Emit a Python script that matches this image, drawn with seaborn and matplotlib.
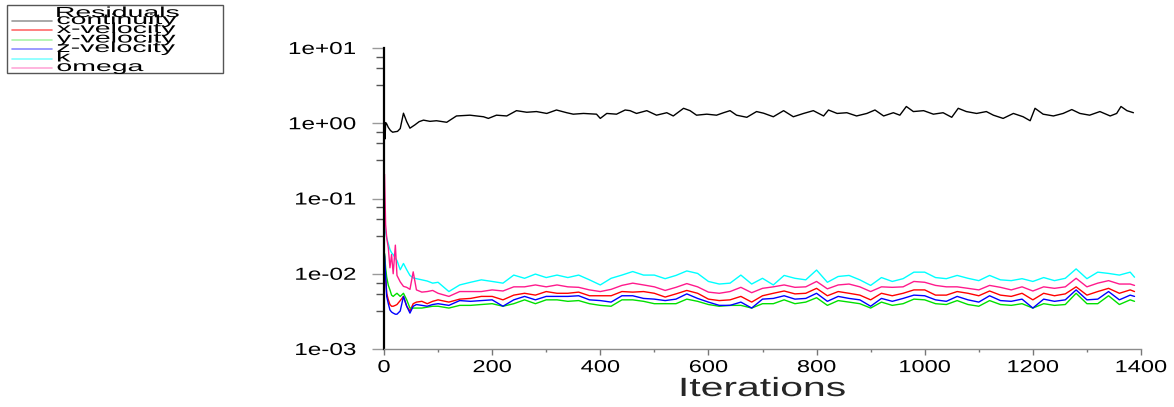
import matplotlib
matplotlib.use("Agg")
import matplotlib.pyplot as plt
import pandas as pd
import seaborn as sns
from matplotlib.lines import Line2D
from matplotlib.patches import Rectangle
from matplotlib.patheffects import AbstractPathEffect
from matplotlib.transforms import Affine2D
from matplotlib.ticker import FixedLocator, FixedFormatter, NullFormatter

# ---- residual history -------------------------------------------------------
series_names = ["continuity", "x-velocity", "y-velocity", "z-velocity", "k", "omega"]
line_colors = ["#000000", "#ff0000", "#00e000", "#0000ff", "#00ffff", "#ff1a8c"]
legend_colors = ["#9a9a9a", "#ff6a6a", "#a8f5a8", "#8a8aff", "#80ffff", "#ffa8d8"]

continuity_iter = [0, 1, 2, 3, 5, 8, 12, 16, 20, 25, 30, 36, 42, 48, 57, 65, 73, 85,
                   97, 116, 134, 159, 184, 193, 208, 227, 245, 264, 282, 301, 319,
                   338, 350, 369, 393, 400, 412, 430, 446, 455, 467, 486, 504, 523,
                   535, 554, 566, 578, 597, 615, 628, 640, 652, 671, 689, 702, 720,
                   739, 757, 776, 794, 813, 822, 838, 856, 874, 893, 908, 924, 942,
                   954, 966, 979, 998, 1016, 1034, 1050, 1062, 1077, 1096, 1114,
                   1127, 1145, 1164, 1182, 1195, 1204, 1219, 1238, 1256, 1272, 1287,
                   1305, 1324, 1343, 1355, 1363, 1374, 1386]
continuity = [0.50, 1.00, 0.62, 1.02, 0.98, 0.88, 0.80, 0.76, 0.77, 0.78, 0.85, 1.36,
              1.05, 0.86, 0.95, 1.05, 1.10, 1.06, 1.08, 1.03, 1.25, 1.28, 1.22, 1.16,
              1.28, 1.25, 1.47, 1.40, 1.43, 1.35, 1.50, 1.38, 1.32, 1.35, 1.32, 1.16,
              1.35, 1.32, 1.50, 1.47, 1.35, 1.47, 1.28, 1.38, 1.25, 1.58, 1.47, 1.28,
              1.32, 1.28, 1.38, 1.47, 1.28, 1.20, 1.43, 1.36, 1.22, 1.47, 1.22, 1.35,
              1.47, 1.25, 1.50, 1.35, 1.38, 1.25, 1.35, 1.50, 1.25, 1.38, 1.28, 1.67,
              1.43, 1.47, 1.32, 1.38, 1.20, 1.58, 1.43, 1.35, 1.43, 1.28, 1.16, 1.35,
              1.22, 1.08, 1.58, 1.32, 1.25, 1.35, 1.52, 1.35, 1.28, 1.43, 1.25, 1.35,
              1.67, 1.47, 1.38]

iterations = [1, 3, 5, 8, 11, 14, 17, 21, 24, 30, 36, 42, 48, 54, 60, 70, 80, 90,
              100, 120, 140, 160, 180, 200, 220, 240, 260, 280, 300, 320, 340,
              360, 380, 400, 420, 440, 460, 480, 500, 520, 540, 560, 580, 600, 620,
              640, 660, 680, 700,
              720, 740, 760, 780, 800, 820, 840, 860, 880, 900, 920, 940, 960, 980,
              1000, 1020, 1040,
              1060, 1080, 1100, 1120, 1140, 1160, 1180, 1200, 1220, 1240, 1260, 1280,
              1300, 1320, 1340, 1360, 1380, 1388]

x_velocity = [0.017, 0.0093, 0.0055, 0.0045, 0.0039, 0.0037, 0.0037, 0.0038, 0.0039,
              0.0044, 0.0050, 0.0037, 0.0032, 0.0040, 0.0042, 0.0043, 0.0040, 0.0043,
              0.0045, 0.0042, 0.0046, 0.0047, 0.0050, 0.0050, 0.0045, 0.0052, 0.0055,
              0.0052, 0.0058, 0.0055, 0.0055,
              0.0057, 0.0051, 0.0051, 0.0051, 0.0058, 0.0057, 0.0058, 0.0055, 0.0049,
              0.0054, 0.0060, 0.0055, 0.0046, 0.0044, 0.0045, 0.0050, 0.0042, 0.0051,
              0.0055, 0.0059, 0.0054, 0.0055, 0.0064, 0.0051, 0.0058, 0.0055, 0.0052,
              0.0045, 0.0055, 0.0051, 0.0055, 0.0061, 0.0061, 0.0052, 0.0052,
              0.0058, 0.0055, 0.0051, 0.0059, 0.0052, 0.0050, 0.0055, 0.0045, 0.0055,
              0.0051, 0.0054, 0.0067, 0.0052, 0.0058, 0.0064, 0.0055, 0.0061, 0.0058]

y_velocity = [0.0187, 0.012, 0.0090, 0.0070, 0.0061, 0.0052, 0.0050, 0.0053, 0.0055,
              0.0050, 0.0055, 0.0045, 0.0035, 0.0035, 0.0035, 0.0035, 0.0036, 0.0037,
              0.0037, 0.0035, 0.0038, 0.0038, 0.0039, 0.0040, 0.0037, 0.0040, 0.0045,
              0.0040, 0.0045, 0.0045, 0.0043,
              0.0044, 0.0040, 0.0038, 0.0037, 0.0045, 0.0045, 0.0043, 0.0040, 0.0040,
              0.0040, 0.0046, 0.0043, 0.0039, 0.0037, 0.0038, 0.0038, 0.0035, 0.0040,
              0.0040, 0.0045, 0.0040, 0.0042, 0.0048, 0.0038, 0.0044, 0.0042, 0.0040,
              0.0035, 0.0042, 0.0038, 0.0040, 0.0046, 0.0045, 0.0040, 0.0039,
              0.0044, 0.0039, 0.0037, 0.0044, 0.0039, 0.0038, 0.0040, 0.0035, 0.0040,
              0.0038, 0.0039, 0.0055, 0.0040, 0.0040, 0.0051, 0.0039, 0.0045, 0.0043]

z_velocity = [0.018, 0.0093, 0.0050, 0.0040, 0.0033, 0.0031, 0.0030, 0.0029, 0.0029,
              0.0032, 0.0050, 0.0037, 0.0030, 0.0037, 0.0039, 0.0038, 0.0037, 0.0039,
              0.0040, 0.0038, 0.0044, 0.0043, 0.0044, 0.0045, 0.0037, 0.0045, 0.0050,
              0.0045, 0.0050, 0.0050, 0.0050,
              0.0051, 0.0045, 0.0044, 0.0042, 0.0051, 0.0051, 0.0047, 0.0046, 0.0044,
              0.0046, 0.0054, 0.0047, 0.0042, 0.0038, 0.0038, 0.0042, 0.0035, 0.0046,
              0.0047, 0.0051, 0.0046, 0.0047, 0.0055, 0.0043, 0.0050, 0.0047, 0.0045,
              0.0037, 0.0047, 0.0043, 0.0047, 0.0052, 0.0051, 0.0045, 0.0043,
              0.0050, 0.0045, 0.0042, 0.0051, 0.0044, 0.0043, 0.0046, 0.0035, 0.0046,
              0.0043, 0.0045, 0.0061, 0.0045, 0.0046, 0.0058, 0.0045, 0.0052, 0.0050]

k = [0.044, 0.036, 0.030, 0.025, 0.021, 0.019, 0.018, 0.016, 0.015, 0.0113, 0.0137,
     0.0113, 0.0095, 0.0088, 0.0086, 0.0083, 0.0080, 0.0075,
     0.0077, 0.0058, 0.0071, 0.0077, 0.0083, 0.0079, 0.0075, 0.0096, 0.0087, 0.0099,
     0.0089, 0.0096, 0.0089,
     0.0096, 0.0083, 0.0071, 0.0087, 0.0096, 0.0107, 0.0096, 0.0096, 0.0086, 0.0095,
     0.0109, 0.0101, 0.0079, 0.0073, 0.0075, 0.0096, 0.0073, 0.0087,
     0.0071, 0.0095, 0.0087, 0.0083, 0.0112, 0.0077, 0.0092, 0.0095, 0.0083, 0.0070,
     0.0089, 0.0079, 0.0086, 0.0105, 0.0105, 0.0089, 0.0086,
     0.0095, 0.0087, 0.0081, 0.0095, 0.0083, 0.0081, 0.0086, 0.0079, 0.0089, 0.0081,
     0.0087, 0.0116, 0.0086, 0.0105, 0.0101, 0.0096, 0.0105, 0.0090]

omega = [0.21, 0.045, 0.030, 0.022, 0.012, 0.018, 0.010, 0.024, 0.0095, 0.0078,
         0.0068, 0.0066, 0.0062, 0.0106, 0.0061, 0.0057, 0.0058, 0.0060,
         0.0055, 0.0050, 0.0058, 0.0058, 0.0058, 0.0061, 0.0059, 0.0067, 0.0067,
         0.0071, 0.0067, 0.0071, 0.0067,
         0.0066, 0.0061, 0.0058, 0.0062, 0.0070, 0.0075, 0.0071, 0.0067, 0.0060,
         0.0066, 0.0074, 0.0067, 0.0057, 0.0055, 0.0058, 0.0066, 0.0056, 0.0064,
         0.0067, 0.0071, 0.0066, 0.0067, 0.0079, 0.0063, 0.0071, 0.0073, 0.0067,
         0.0058, 0.0067, 0.0066, 0.0067, 0.0079, 0.0077, 0.0070, 0.0067,
         0.0067, 0.0064, 0.0061, 0.0070, 0.0066, 0.0061, 0.0067, 0.0059, 0.0067,
         0.0064, 0.0067, 0.0087, 0.0067, 0.0075, 0.0081, 0.0073, 0.0073, 0.0070]

x_ticks = [0, 200, 400, 600, 800, 1000, 1200, 1400]
x_minor_ticks = [100, 300, 500, 700, 900, 1100, 1300]
y_ticks = [1e-3, 1e-2, 1e-1, 1e0, 1e1]
y_tick_labels = ["1e-03", "1e-02", "1e-01", "1e+00", "1e+01"]
y_minor_subs = [3.2, 5.4, 7.6]


class Widen(AbstractPathEffect):
    """Draw text glyphs stretched horizontally about an anchor (0=left, 1=right)."""

    def __init__(self, sx, anchor=0.0):
        super().__init__()
        self.sx = sx
        self.anchor = anchor

    def draw_path(self, renderer, gc, tpath, affine, rgbFace=None):
        ext = tpath.get_extents()
        x0 = ext.x0 + self.anchor * ext.width
        stretch = Affine2D().translate(-x0, 0).scale(self.sx, 1.0).translate(x0, 0)
        renderer.draw_path(gc, tpath, stretch + affine, rgbFace)


# ---- long-form table for seaborn --------------------------------------------
frames = [pd.DataFrame({"Iterations": continuity_iter, "Residual": continuity,
                        "Series": "continuity"})]
for name, vals in zip(series_names[1:], [x_velocity, y_velocity, z_velocity, k, omega]):
    frames.append(pd.DataFrame({"Iterations": iterations, "Residual": vals,
                                "Series": name}))
df = pd.concat(frames, ignore_index=True)

sns.set_theme(style="white")
plt.rcParams["font.family"] = ["Liberation Sans", "DejaVu Sans"]

W, H = 1174, 407
fig = plt.figure(figsize=(W / 100, H / 100), dpi=100)
ax = fig.add_axes([384 / W, 1 - 349 / H, (1141 - 384) / W, (349 - 48) / H])

sns.lineplot(data=df, x="Iterations", y="Residual", hue="Series",
             hue_order=series_names, palette=dict(zip(series_names, line_colors)),
             estimator=None, sort=False, legend=False, linewidth=1.0, ax=ax)

ax.set_yscale("log")
ax.set_xlim(0, 1400)
ax.set_ylim(1e-3, 1e1)

for side in ("top", "right"):
    ax.spines[side].set_visible(False)
ax.spines["left"].set_color("black")
ax.spines["left"].set_linewidth(1.6)
ax.spines["bottom"].set_color("#8c8c8c")
ax.spines["bottom"].set_linewidth(1.0)

ax.xaxis.set_major_locator(FixedLocator(x_ticks))
ax.xaxis.set_minor_locator(FixedLocator(x_minor_ticks))
ax.yaxis.set_major_locator(FixedLocator(y_ticks))
ax.yaxis.set_major_formatter(FixedFormatter(y_tick_labels))
minor_y = [d * s for d in [1e-3, 1e-2, 1e-1, 1e0] for s in y_minor_subs]
ax.yaxis.set_minor_locator(FixedLocator(minor_y))
ax.yaxis.set_minor_formatter(NullFormatter())

ax.tick_params(axis="x", which="major", direction="out", length=4, width=1,
               color="#777777", pad=4, labelsize=12.5, labelcolor="black", bottom=True)
ax.tick_params(axis="x", which="minor", direction="out", length=2.5, width=1,
               color="#777777", bottom=True)
ax.tick_params(axis="y", which="major", direction="out", length=8.6, width=1,
               color="#9a9a9a", pad=11.5, labelsize=12.5, labelcolor="black", left=True)
ax.tick_params(axis="y", which="minor", direction="out", length=5.5, width=1,
               color="#555555", left=True)

for lab in ax.get_yticklabels():
    lab.set_path_effects([Widen(1.4, anchor=1.0)])
for lab in ax.get_xticklabels():
    lab.set_path_effects([Widen(1.36, anchor=0.5)])

ax.set_xlabel("Iterations", fontsize=19)
ax.set_ylabel("")
ax.xaxis.set_label_coords(0.5, (349 - 377) / (349 - 48))
ax.xaxis.label.set_path_effects([Widen(1.55, anchor=0.5)])

# ---- legend box in the upper left corner ------------------------------------
fig.add_artist(Rectangle((7 / W, 1 - 73 / H), (223 - 7) / W, (73 - 5) / H,
                         transform=fig.transFigure, fill=False,
                         edgecolor="#555555", linewidth=1.0))
t = fig.text(56 / W, 1 - 13 / H, "Residuals", ha="left", va="center", fontsize=10.5,
             color="black")
t.set_path_effects([Widen(1.95, anchor=0.0)])
row_y = [21, 30, 39.5, 49, 58.5, 68]
for name, col, yy in zip(series_names, legend_colors, row_y):
    fig.add_artist(Line2D([12 / W, 52 / W], [1 - yy / H, 1 - yy / H],
                          transform=fig.transFigure, color=col, linewidth=1.2))
    tt = fig.text(57 / W, 1 - (yy - 1) / H, name, ha="left", va="center",
                  fontsize=10.5, color="black")
    tt.set_path_effects([Widen(1.95, anchor=0.0)])

fig.savefig("out.png", dpi=100)
